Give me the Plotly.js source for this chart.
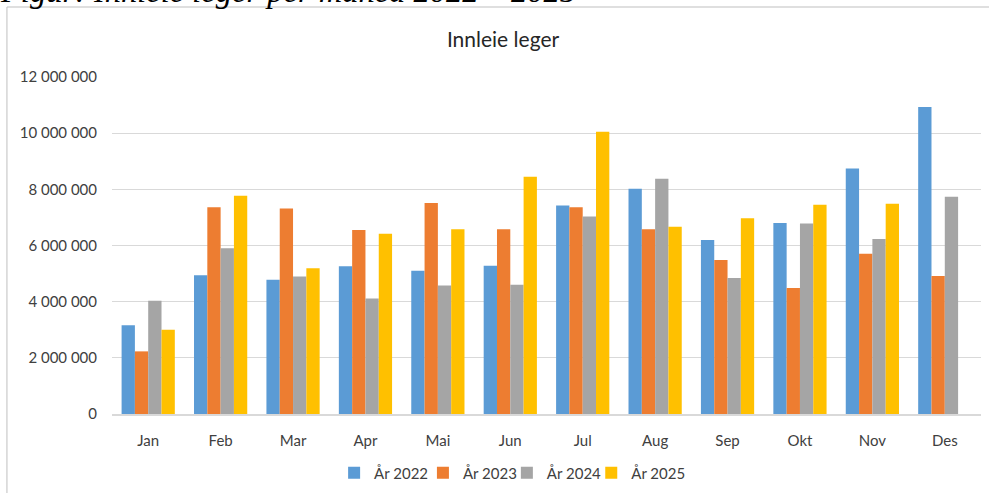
<!DOCTYPE html>
<html>
<head>
<meta charset="utf-8">
<script src="https://cdn.plot.ly/plotly-3.0.1.min.js"></script>
<style>
html,body{margin:0;padding:0;background:#fff;}
#chart{width:989px;height:493px;}
</style>
</head>
<body>
<div id="chart"></div>
<script>
const months = ["Jan","Feb","Mar","Apr","Mai","Jun","Jul","Aug","Sep","Okt","Nov","Des"];
const seriesNames = ["År 2022","År 2023","År 2024","År 2025"];
const y2022 = [3160000,4940000,4780000,5260000,5100000,5280000,7420000,8020000,6200000,6800000,8740000,10930000];
const y2023 = [2230000,7360000,7320000,6550000,7510000,6580000,7360000,6580000,5480000,4490000,5710000,4910000];
const y2024 = [4030000,5900000,4900000,4110000,4580000,4600000,7030000,8380000,4840000,6780000,6230000,7740000];
const y2025 = [3000000,7770000,5190000,6420000,6580000,8450000,10050000,6670000,6970000,7450000,7490000,null];
const colors = ["#5b9bd5","#ed7d31","#a5a5a5","#ffc000"];
const yTicks = [0,2000000,4000000,6000000,8000000,10000000,12000000];

const legendIds = ['legend','legend2','legend3','legend4'];
const legendX = [0.2556,0.3578,0.4544,0.5515];

const allSeries = [y2022,y2023,y2024,y2025];
const traces = allSeries.map((vals,i)=>({
  type:'bar', x:months, y:vals, name:seriesNames[i],
  marker:{color:colors[i]}, hoverinfo:'none', legend:legendIds[i]
}));

const font = "Lato, 'Open Sans', sans-serif";
const layout = {
  width:989, height:493,
  margin:{l:112, r:8, t:77, b:79},
  paper_bgcolor:'#fff', plot_bgcolor:'#fff',
  separators:', ',
  barmode:'group', bargap:0.265, bargroupgap:0,
  font:{family:font, color:'#404040', size:14},
  title:{text:'Innleie leger', font:{family:font, size:21, color:'#262626'},
         xref:'container', x:0.5086, xanchor:'center', yref:'container', y:0.919, yanchor:'middle'},
  xaxis:{type:'category', showgrid:false, showline:true, linecolor:'#d9d9d9', linewidth:1.5,
         ticks:'', ticklabelstandoff:12, tickfont:{size:15, color:'#404040'}, fixedrange:true},
  yaxis:{range:[0,12000000], tickvals:yTicks, tickformat:',d', showgrid:true, gridcolor:'#d9d9d9',
         gridwidth:1, zeroline:false, showline:false, ticks:'', ticklabelstandoff:14,
         tickfont:{size:15, color:'#404040'}, fixedrange:true},
  showlegend:true,
  shapes:[{type:'rect', xref:'paper', yref:'paper', x0:-0.1209, x1:1.05, y0:-0.3, y1:1.2077,
           line:{color:'#bfbfbf', width:1}, fillcolor:'rgba(0,0,0,0)', layer:'below'}],
  annotations:[{text:'<i>Figur: Innleie leger per måned 2022 – 2025</i>', xref:'paper', yref:'paper',
                x:-0.131, xanchor:'left', y:1.196, yanchor:'bottom', showarrow:false,
                font:{family:"'Liberation Serif', 'DejaVu Serif', serif", size:32.5, color:'#000'}}]
};
legendIds.forEach((id,i)=>{
  layout[id] = {orientation:'h', xref:'paper', x:legendX[i], xanchor:'left', yref:'container', y:0.0406, yanchor:'middle',
    font:{size:15, color:'#404040'}, itemclick:false, bgcolor:'rgba(0,0,0,0)'};
});
Plotly.newPlot('chart', traces, layout, {displayModeBar:false, staticPlot:true});
</script>
</body>
</html>
